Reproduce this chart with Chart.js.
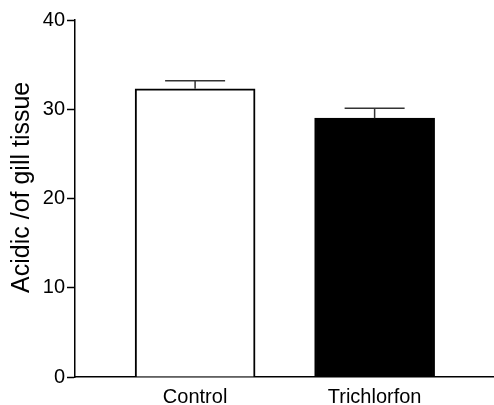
<!DOCTYPE html>
<html>
<head>
<meta charset="utf-8">
<script src="https://cdn.jsdelivr.net/npm/chart.js@4"></script>
<style>
  html, body { margin: 0; padding: 0; background: #fff; }
  #wrap { width: 494px; height: 405px; }
</style>
</head>
<body>
<div id="wrap"><canvas id="myChart"></canvas></div>
<script>
const categories = ['Control', 'Trichlorfon'];
const values = [32.3, 29.0];
const errors = [0.9, 1.1];
const yTicks = [0, 10, 20, 30, 40];
const yTitle = 'Acidic /of gill tissue';

const font = 'Liberation Sans, Arial, Helvetica, sans-serif';

// error bars drawn on top of the bars, plus the y title (sits a bit above centre)
const extras = {
  id: 'extras',
  afterDatasetsDraw(chart) {
    const c = chart.ctx;
    const xs = chart.scales.x;
    const ys = chart.scales.y;
    c.save();
    c.strokeStyle = '#333';
    c.lineWidth = 1.5;
    values.forEach((v, i) => {
      const x = xs.getPixelForValue(i + 1);
      const y0 = ys.getPixelForValue(v);
      const y1 = ys.getPixelForValue(v + errors[i]);
      c.beginPath();
      c.moveTo(x, y0);
      c.lineTo(x, y1);
      c.moveTo(x - 30, y1);
      c.lineTo(x + 30, y1);
      c.stroke();
    });
    c.translate(22, ys.getPixelForValue(21.25));
    c.rotate(-Math.PI / 2);
    c.fillStyle = '#000';
    c.font = '25px ' + font;
    c.textAlign = 'center';
    c.textBaseline = 'middle';
    c.fillText(yTitle, 0, 0);
    c.restore();
  }
};

const ctx = document.getElementById('myChart').getContext('2d');
const myChart = new Chart(ctx, {
  type: 'bar',
  data: {
    datasets: [{
      data: values.map((v, i) => ({ x: i + 1, y: v })),
      backgroundColor: ['#ffffff', '#000000'],
      borderColor: '#000000',
      borderWidth: 2,
      barThickness: 120
    }]
  },
  options: {
    responsive: true,
    maintainAspectRatio: false,
    animation: false,
    layout: { padding: { top: 20, right: 0, left: 0, bottom: 0 } },
    plugins: { legend: { display: false }, tooltip: { enabled: false } },
    scales: {
      x: {
        type: 'linear',
        offset: false,
        bounds: 'ticks',
        min: 0.331,
        max: 2.665,
        grid: { display: false, drawTicks: false },
        border: { color: '#000', width: 1.5 },
        afterBuildTicks: s => { s.ticks = categories.map((c, i) => ({ value: i + 1 })); },
        ticks: {
          padding: 8,
          color: '#000',
          font: { family: font, size: 20 },
          callback: v => categories[v - 1]
        },
        afterFit: s => { s.height = 28; }
      },
      y: {
        min: 0,
        max: 40,
        afterBuildTicks: s => { s.ticks = yTicks.map(v => ({ value: v })); },
        grid: { drawOnChartArea: false, tickLength: 8, color: '#000', tickWidth: 1.5 },
        border: { color: '#000', width: 1.5 },
        ticks: { padding: 2, color: '#000', font: { family: font, size: 20 } },
        afterFit: s => { s.width = 75; }
      }
    }
  },
  plugins: [extras]
});
</script>
</body>
</html>
